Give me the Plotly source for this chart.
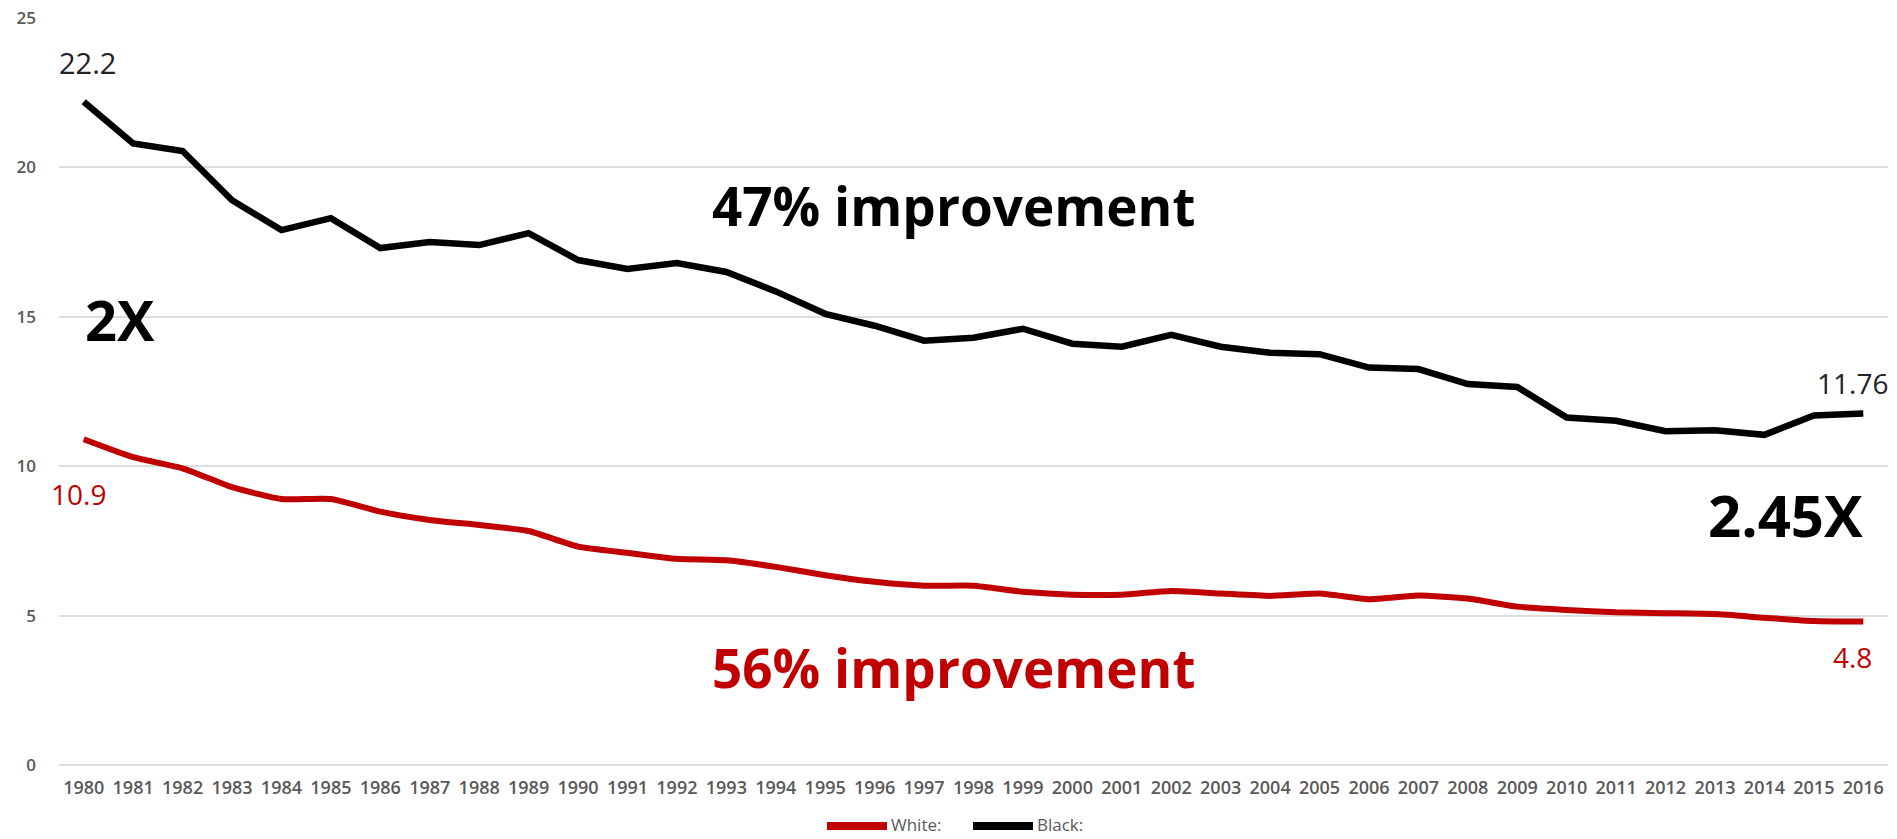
import plotly.graph_objects as go

# Rates per year, 1980-2016
years = ["1980", "1981", "1982", "1983", "1984", "1985", "1986", "1987", "1988",
         "1989", "1990", "1991", "1992", "1993", "1994", "1995", "1996", "1997",
         "1998", "1999", "2000", "2001", "2002", "2003", "2004", "2005", "2006",
         "2007", "2008", "2009", "2010", "2011", "2012", "2013", "2014", "2015",
         "2016"]

white = [10.9, 10.3, 9.93, 9.3, 8.9, 8.9, 8.48, 8.2, 8.03, 7.83, 7.31, 7.1,
         6.9, 6.85, 6.63, 6.35, 6.13, 6.0, 6.0, 5.8, 5.7, 5.7, 5.82, 5.74,
         5.66, 5.74, 5.55, 5.67, 5.57, 5.3, 5.19, 5.11, 5.08, 5.05, 4.93,
         4.82, 4.8]

black = [22.2, 20.8, 20.55, 18.9, 17.9, 18.3, 17.3, 17.5, 17.4, 17.8, 16.9,
         16.6, 16.8, 16.5, 15.85, 15.1, 14.7, 14.2, 14.3, 14.6, 14.1, 14.0,
         14.4, 14.0, 13.8, 13.75, 13.3, 13.25, 12.75, 12.65, 11.63, 11.52,
         11.17, 11.2, 11.05, 11.7, 11.76]

y_ticks = [0, 5, 10, 15, 20, 25]

RED = "#C00000"
BLK = "#000000"
GREY = "#595959"
FONT = "Open Sans"

# plot-area geometry in pixels, used to place the hand-drawn legend
W, H = 1897, 839
ML, MR, MT, MB = 59, 9, 18, 74
PW, PH = W - ML - MR, H - MT - MB


def px_x(p):
    return (p - ML) / PW


def px_y(p):
    return (H - MB - p) / PH


fig = go.Figure()
fig.add_trace(go.Scatter(x=years, y=white, name="White:", mode="lines",
                         line=dict(color=RED, width=6, shape="spline", smoothing=0.5),
                         showlegend=False))
fig.add_trace(go.Scatter(x=years, y=black, name="Black:", mode="lines",
                         line=dict(color=BLK, width=6.5),
                         showlegend=False))

last = len(years) - 1
annotations = [
    # end-point values
    dict(x=0.07, y=23.5, text=f"{black[0]:g}", font=dict(size=29, color="#222222")),
    dict(x=-0.1, y=9.07, text=f"{white[0]:g}", font=dict(size=28, color=RED)),
    dict(x=last - 0.22, y=12.77, text=f"{black[-1]:g}", font=dict(size=28, color="#222222")),
    dict(x=last - 0.22, y=3.61, text=f"{white[-1]:g}", font=dict(size=28, color=RED)),
    # callouts
    dict(x=0.74, y=14.93, text="<b>2X</b>", font=dict(size=56, color=BLK)),
    dict(x=34.42, y=8.4, text="<b>2.45X</b>", font=dict(size=58, color=BLK)),
    dict(x=17.6, y=18.74, text="<b>47% improvement</b>", font=dict(size=53, color=BLK)),
    dict(x=17.6, y=3.25, text="<b>56% improvement</b>", font=dict(size=53, color=RED)),
]
for a in annotations:
    a.update(xref="x", yref="y", showarrow=False, xanchor="center", yanchor="middle")
    a["font"]["family"] = FONT

# legend drawn as swatches + labels below the axis
legend_items = [("White:", RED, 827, 887), ("Black:", BLK, 973, 1033)]
shapes = []
for label, color, x0, x1 in legend_items:
    shapes.append(dict(type="line", xref="paper", yref="paper",
                       x0=px_x(x0), x1=px_x(x1), y0=px_y(826), y1=px_y(826),
                       line=dict(color=color, width=8)))
    annotations.append(dict(xref="paper", yref="paper", x=px_x(x1 + 2), y=px_y(824),
                            xanchor="left", yanchor="middle", showarrow=False,
                            text=label, font=dict(size=17, color=GREY, family=FONT)))

fig.update_layout(
    width=W, height=H,
    margin=dict(l=ML, r=MR, t=MT, b=MB, autoexpand=False),
    paper_bgcolor="white", plot_bgcolor="white",
    font=dict(family=FONT, color=GREY),
    annotations=annotations,
    shapes=shapes,
    showlegend=False,
)
fig.update_xaxes(type="category", range=[-0.5, len(years) - 0.5],
                 showgrid=False, showline=False, zeroline=False,
                 ticks="", tickangle=0, ticklabelstandoff=10,
                 tickfont=dict(size=18, color=GREY, family=FONT, weight=600))
fig.update_yaxes(range=[0, 25], tickvals=y_ticks, showgrid=True,
                 gridcolor="#DCDCDC", gridwidth=2, zeroline=True,
                 zerolinecolor="#DCDCDC", zerolinewidth=2, showline=False,
                 ticks="", ticklabelstandoff=22,
                 tickfont=dict(size=17, color=GREY, family=FONT, weight=600))

fig.write_html("out.html")
